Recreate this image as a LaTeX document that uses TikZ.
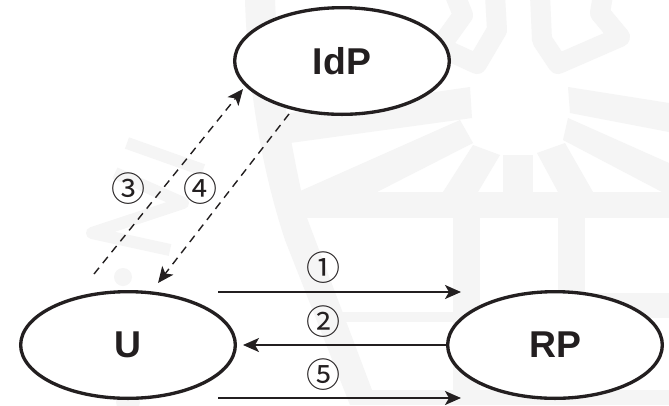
\documentclass[tikz,border=0pt]{standalone}
\usepackage{fontspec}
\setmainfont{Liberation Sans}
\newfontfamily\circfont{Noto Sans CJK JP}
\usetikzlibrary{shapes.geometric,arrows.meta}
\definecolor{wm}{HTML}{F5F5F5}
\definecolor{ink}{HTML}{231F20}
\tikzset{
  x=0.75pt,y=-0.75pt,
  party/.style={ellipse,draw=ink,fill=white,line width=2.5pt,minimum width=161pt,minimum height=80pt,inner sep=0pt,text=ink,font=\fontsize{28}{30}\selectfont\bfseries},
  flow/.style={line width=1.35pt,draw=ink,-{Stealth[length=12pt,width=10.5pt,inset=3pt]}},
  dflow/.style={flow,line width=1.05pt,dash pattern=on 6pt off 4.5pt},
  steplabel/.style={inner sep=0pt,text=ink,font=\circfont\fontsize{25.5}{27}\selectfont},
  wmfill/.style={fill=wm,draw=none},
  wmline/.style={draw=wm,line width=9pt,line join=round}
}
\begin{document}
\begin{tikzpicture}
\useasboundingbox (0,0) rectangle (669,405);
\fill[white] (0,0) rectangle (669,405);
% faint watermark: shield outline
\fill[wmfill] (245,0) .. controls (248,90) and (262,170) .. (285,240) -- (350,405) -- (385,405) -- (372,390)
  -- (307,218) .. controls (292,150) and (278,80) .. (275,0) -- cycle;
\fill[wmfill] (298,192) rectangle (669,218);
\fill[wmfill] (453,218) rectangle (480,405);
\fill[wmfill] (558,218) rectangle (585,405);
\fill[wmfill] (330,312) rectangle (453,322);
\fill[wmfill] (585,293) rectangle (669,318);
\fill[wmfill] (372,390) rectangle (669,405);
% sun rays
\fill[wmfill] (470,87) -- (262,117) -- (290,143) -- (472,118) -- cycle;
\fill[wmfill] (460,120) -- (298,192) -- (377,192) -- (473,143) -- cycle;
\fill[wmfill] (473,145) -- (500,155) -- (478,192) -- (443,192) -- cycle;
\fill[wmfill] (503,155) rectangle (533,192);
\fill[wmfill] (537,153) -- (565,143) -- (593,192) -- (558,192) -- cycle;
\fill[wmfill] (563,140) -- (568,118) -- (669,163) -- (669,192) -- (662,192) -- cycle;
\fill[wmfill] (568,87) -- (669,103) -- (669,132) -- (570,113) -- cycle;
% crest
\draw[wmline,line width=15pt] (495,-5) -- (497,30) -- (477,64) -- (440,47) -- (463,15) -- (455,-5);
\draw[wmline,line width=15pt] (540,-5) -- (542,40) -- (558,64) -- (620,37) -- (600,13) -- (603,-5);
% left letters
\draw[wmline] (127,143) -- (203,170);
\draw[wmline] (115,173) -- (183,203) -- (92,233) -- (170,250);
\fill[wm] (123,277) circle[radius=9];
\fill[wm] (128,402) circle[radius=12];
% diagram
\node[party] (I) at (342,61) {IdP};
\node[party] (U) at (128,345) {U};
\node[party] (R) at (555,345) {RP};
\coordinate (a1s) at (218,292); \coordinate (a1e) at (461,292);
\coordinate (a5s) at (218,398); \coordinate (a5e) at (461,398);
\coordinate (a2e) at (243,345);
\coordinate (a3s) at (94,274); \coordinate (a3e) at (243,89);
\coordinate (a4s) at (289,114); \coordinate (a4e) at (158,283);
\draw[flow] (a1s) -- (a1e);
\draw[flow] (R.west) -- (a2e);
\draw[flow] (a5s) -- (a5e);
\draw[dflow] (a3s) -- (a3e);
\draw[dflow] (a4s) -- (a4e);
\node[steplabel] (n1) at (323,268) {①};
\node[steplabel] (n2) at (323,322) {②};
\node[steplabel] (n5) at (323,375) {⑤};
\node[steplabel] (n3) at (128,189) {③};
\node[steplabel] (n4) at (200,189) {④};
\end{tikzpicture}
\end{document}
